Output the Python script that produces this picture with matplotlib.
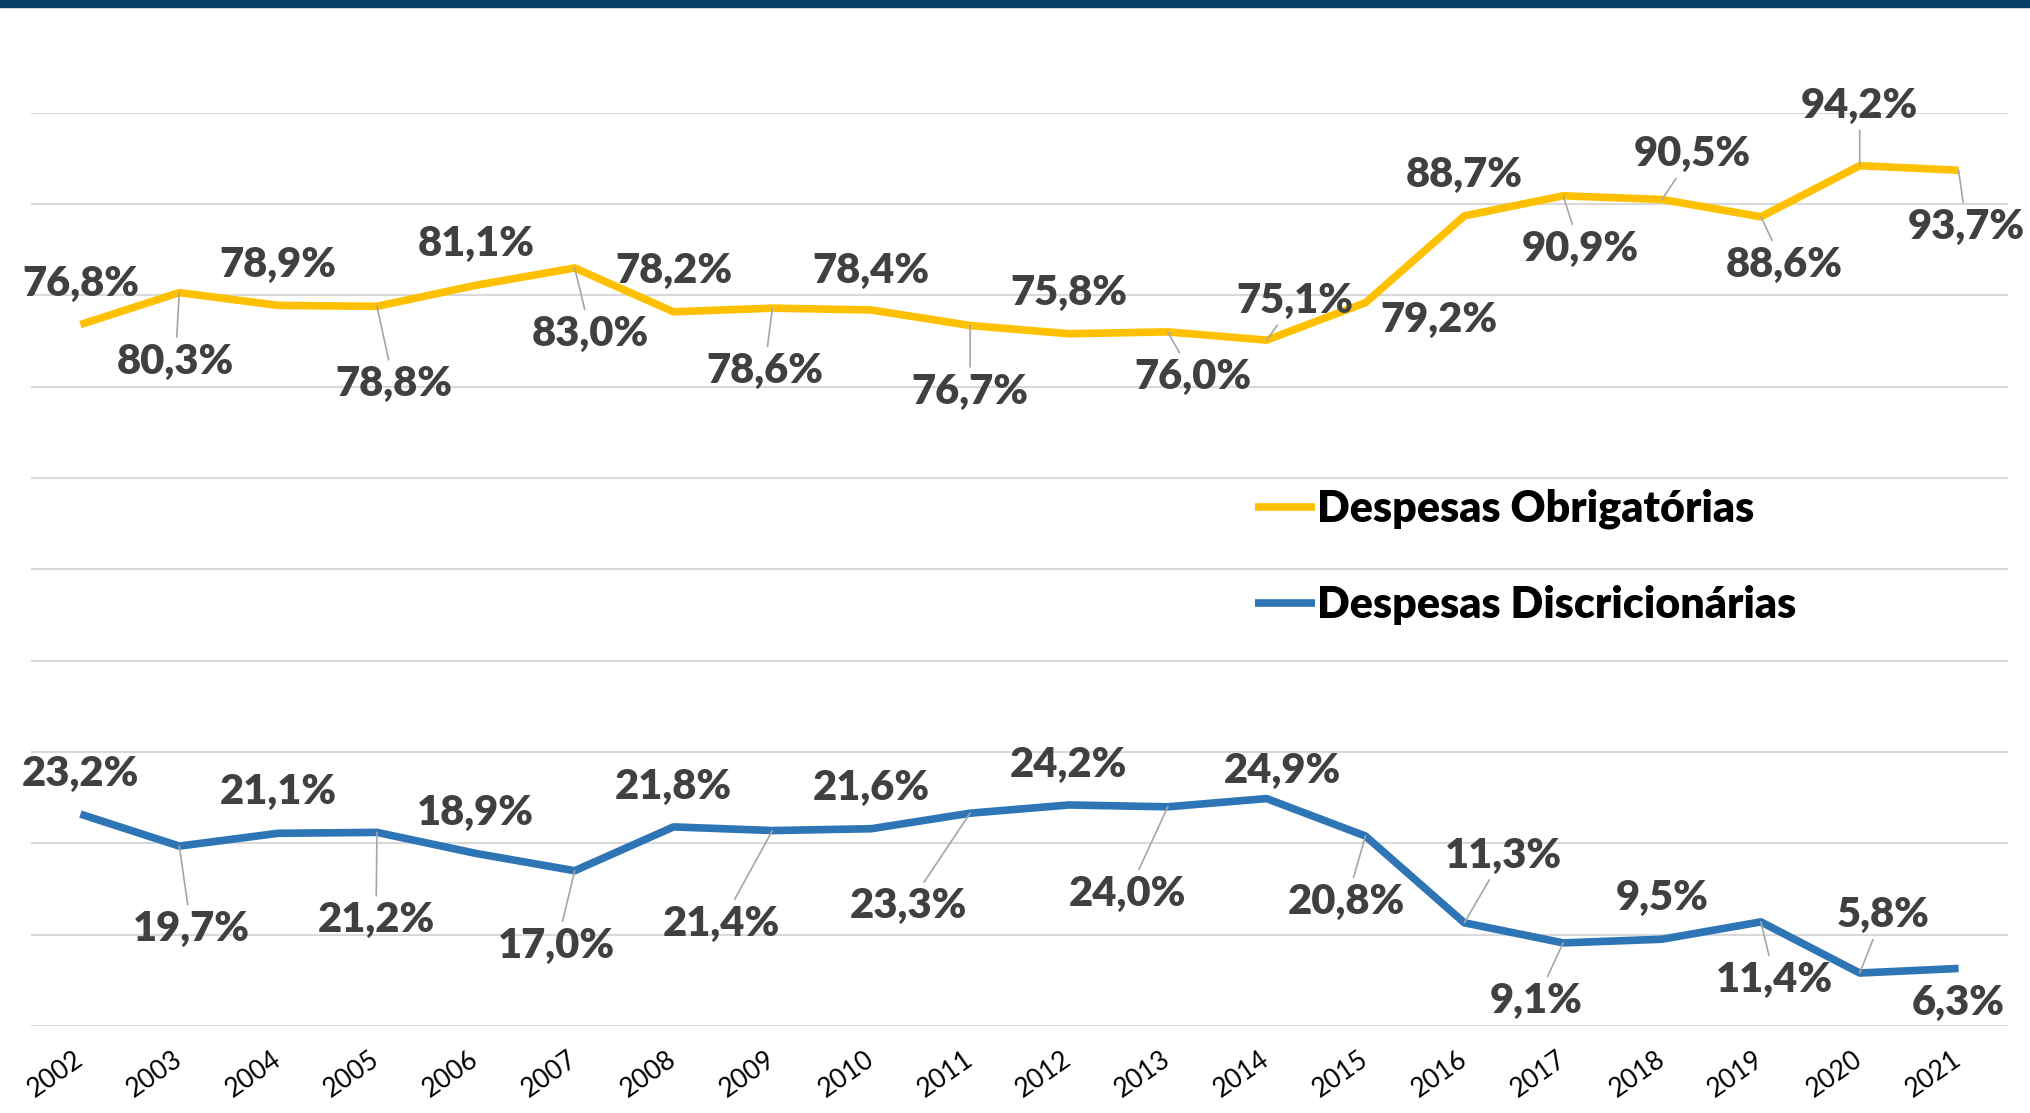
# -*- coding: utf-8 -*-

import numpy as np
import matplotlib
matplotlib.use('Agg')
import matplotlib.pyplot as plt
from matplotlib.patches import Rectangle

plt.rcParams['font.family'] = ['Lato', 'DejaVu Sans']

# data
years = ['2002', '2003', '2004', '2005', '2006', '2007', '2008', '2009', '2010', '2011',
         '2012', '2013', '2014', '2015', '2016', '2017', '2018', '2019', '2020', '2021']
obrigatorias = [76.8, 80.3, 78.9, 78.8, 81.1, 83.0, 78.2, 78.6, 78.4, 76.7,
                75.8, 76.0, 75.1, 79.2, 88.7, 90.9, 90.5, 88.6, 94.2, 93.7]
discricionarias = [23.2, 19.7, 21.1, 21.2, 18.9, 17.0, 21.8, 21.4, 21.6, 23.3,
                   24.2, 24.0, 24.9, 20.8, 11.3, 9.1, 9.5, 11.4, 5.8, 6.3]

# label offsets in pixels (dx, dy) and leader line flags
off_obr = [(0, 41), (-4, -69), (0, 40), (17, -78), (0, 41), (16, -66), (0, 41), (-8, -63),
           (0, 39), (0, -66), (0, 41), (25, -45), (28, 39), (73, -17), (0, 41), (17, -53),
           (30, 45), (23, -48), (0, 60), (8, -57)]
lead_obr = [0, 1, 0, 1, 0, 1, 0, 1, 0, 1, 0, 1, 1, 0, 0, 1, 1, 1, 1, 1]
off_dis = [(0, 40), (12, -83), (0, 41), (-1, -88), (0, 40), (-18, -75), (0, 40), (-51, -93),
           (0, 41), (-62, -93), (0, 40), (-40, -87), (16, 28), (-19, -66), (39, 67), (-27, -58),
           (0, 41), (14, -58), (23, 58), (0, -35)]
lead_dis = [0, 1, 0, 1, 0, 1, 0, 1, 0, 1, 0, 1, 0, 1, 1, 1, 0, 1, 1, 0]

c_obr = '#FFC000'
c_dis = '#2E75B6'
c_lab = '#404040'

W, H = 2031, 1113
fig = plt.figure(figsize=(W / 100, H / 100), dpi=100)
fig.patches.append(Rectangle((0, 1 - 7 / H), 1, 7 / H, transform=fig.transFigure,
                             color='#053F66', zorder=0))
ax = fig.add_axes([31 / W, 1 - 1026 / H, (2008 - 31) / W, (1026 - 112.7) / H])

x = np.arange(len(years))
ax.plot(x, obrigatorias, color=c_obr, lw=5.5, solid_capstyle='butt', label='Despesas Obrigatórias', zorder=3)
ax.plot(x, discricionarias, color=c_dis, lw=5.5, solid_capstyle='butt', label='Despesas Discricionárias', zorder=3)


def add_labels(vals, offs, leads):
    for i, v in enumerate(vals):
        txt = ('%.1f%%' % v).replace('.', ',')
        arrow = dict(arrowstyle='-', color='#A6A6A6', lw=1.2, shrinkA=2, shrinkB=0) if leads[i] else None
        ax.annotate(txt, xy=(i, v), xytext=offs[i], textcoords='offset pixels',
                    ha='center', va='center', fontsize=30, fontweight='heavy', color=c_lab,
                    arrowprops=arrow, zorder=4, annotation_clip=False)


add_labels(obrigatorias, off_obr, lead_obr)
add_labels(discricionarias, off_dis, lead_dis)

ax.set_xlim(-0.5, len(years) - 0.5)
ax.set_ylim(0, 100)
ax.set_yticks(np.arange(0, 101, 10))
ax.yaxis.grid(True, color='#D9D9D9', lw=1.5)
ax.set_axisbelow(True)
for s in ax.spines.values():
    s.set_visible(False)
ax.tick_params(axis='y', left=False, labelleft=False)
ax.set_xticks(x)
ax.set_xticklabels(years, rotation=35, ha='right', va='center', rotation_mode='anchor', fontsize=19)
ax.tick_params(axis='x', length=0, pad=22)

leg = ax.legend(loc='upper left', bbox_to_anchor=(0.619, 0.588), frameon=False,
                prop={'weight': 'heavy', 'size': 31}, handlelength=1.4, handletextpad=0.05,
                labelspacing=1.29, borderpad=0, borderaxespad=0)
for t in leg.get_texts():
    t.set_color('black')

plt.savefig('out.png', dpi=100)
